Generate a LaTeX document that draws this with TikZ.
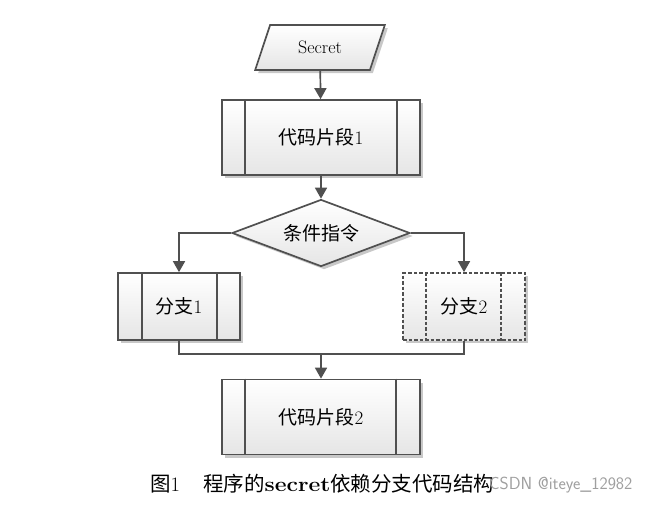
\documentclass[tikz,border=0pt]{standalone}
\usepackage{fontspec}
\newfontfamily\cjk{Noto Sans CJK SC}
\usetikzlibrary{shapes.geometric,shadows,calc,arrows.meta}
\definecolor{lc}{HTML}{505050}
\begin{document}
\begin{tikzpicture}[x=1pt,y=-1pt,
  base/.style={draw=lc, line width=1.7pt, top color=white, bottom color=gray!20,
    drop shadow={shadow xshift=3pt, shadow yshift=-3pt, fill=gray!60, opacity=0.7},
    inner sep=0pt, font=\fontsize{19}{22}\selectfont},
  proc/.style={base, rectangle, minimum width=198pt, minimum height=75pt},
  branch/.style={base, rectangle, minimum width=122pt, minimum height=67pt},
  dsh/.style={dash pattern=on 3.5pt off 2pt},
  inner/.style={draw=lc, line width=1.7pt},
  conn/.style={draw=lc, line width=1.7pt},
  arr/.style={conn, -{Triangle[length=11pt,width=12pt]}}]
\useasboundingbox[fill=white] (0,0) rectangle (655,506);

\node[base, trapezium, trapezium left angle=63, trapezium right angle=117,
  trapezium stretches=true, minimum width=130pt, minimum height=45pt,
  font=\fontsize{18}{20}\selectfont] (s) at (320,47.5) {Secret};

\node[proc] (c1) at (321,137.5) {{\cjk 代码片段}1};
\draw[inner] ($(c1.north west)+(24,0)$) -- ($(c1.south west)+(24,0)$);
\draw[inner] ($(c1.north east)+(-24,0)$) -- ($(c1.south east)+(-24,0)$);

\node[base, diamond, minimum width=178pt, minimum height=67pt, aspect=2.65] (d) at (321,233) {\cjk 条件指令};

\node[branch] (b1) at (179,306.5) {{\cjk 分支}1};
\draw[inner] ($(b1.north west)+(25,0)$) -- ($(b1.south west)+(25,0)$);
\draw[inner] ($(b1.north east)+(-24,0)$) -- ($(b1.south east)+(-24,0)$);

\node[branch, dsh] (b2) at (464,306.5) {{\cjk 分支}2};
\draw[inner, dsh] ($(b2.north west)+(24,0)$) -- ($(b2.south west)+(24,0)$);
\draw[inner, dsh] ($(b2.north east)+(-25,0)$) -- ($(b2.south east)+(-25,0)$);

\node[proc] (c2) at (321,417) {{\cjk 代码片段}2};
\draw[inner] ($(c2.north west)+(24,0)$) -- ($(c2.south west)+(24,0)$);
\draw[inner] ($(c2.north east)+(-25,0)$) -- ($(c2.south east)+(-25,0)$);

\coordinate (j) at (321,353);
\draw[arr] (s) -- (c1);
\draw[arr] (c1) -- (d);
\draw[arr] (d.west) -| (b1.north);
\draw[arr] (d.east) -| (b2.north);
\draw[conn] (b1.south) -- ++(0,13) -| (b2.south);
\draw[arr] (j) -- (c2);

\node[anchor=west, font=\fontsize{20.5}{24}\selectfont, inner sep=0pt] (cap) at (150,484)
  {{\cjk 图}1\hspace{23pt}{\cjk 程序的}\scalebox{1.12}[1]{\textbf{secret}}{\cjk 依赖分支代码结构}};
\node[anchor=west, font=\fontsize{17.5}{20}\selectfont\sffamily, text=gray!75, inner sep=0pt] (wm) at (489,485) {CSDN @iteye\_12982};
\end{tikzpicture}
\end{document}
